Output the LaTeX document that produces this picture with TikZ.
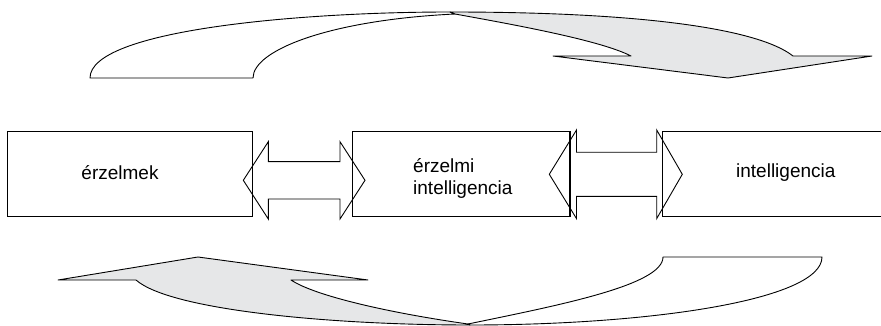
\documentclass[tikz,border=0pt]{standalone}
\usepackage{fontspec}
\setmainfont{Liberation Sans}
\definecolor{ribbongray}{HTML}{E6E7E8}
\begin{document}
\begin{tikzpicture}[x=1pt,y=-1pt,
    box/.style={draw,line width=1.2pt,minimum height=85pt,inner sep=0pt},
    label/.style={font=\fontsize{19}{21.5}\selectfont,inner sep=0pt},
    blockarrow/.style={draw,line width=0.9pt,line join=miter},
    ribbon/.style={draw,line width=0.9pt,line join=round}]
    \useasboundingbox (0,0) rectangle (881,326);
    % the three boxes
    \node[box,minimum width=245pt] (emo) at (129.8,174.2) {};
    \node[box,minimum width=217.3pt] (ei) at (461.35,174.2) {};
    \node[box,minimum width=240pt,anchor=west] (intel) at (661.7,174.2) {};
    \node[label] (emotext) at (120,173) {érzelmek};
    \node[label,align=left,anchor=base west] (eitext) at (413,194) {érzelmi\\intelligencia};
    \node[label] (inteltext) at (785.8,173) {intelligencia};
    % double arrows between the boxes
    \draw[blockarrow] (243.3,180.3) -- (268.3,141.7) -- (268.3,161.7) -- (340,161.7)
        -- (340,141.7) -- (365,180.3) -- (340,219) -- (340,199) -- (268.3,199)
        -- (268.3,219) -- cycle;
    \draw[blockarrow] (549.3,174.3) -- (576.5,130) -- (576.5,152.3) -- (656.7,152.3)
        -- (656.7,130) -- (682.3,174.3) -- (656.7,218.6) -- (656.7,196.3) -- (576.5,196.3)
        -- (576.5,218.6) -- cycle;
    % upper ribbon arrow
    \draw[ribbon,fill=white] (90,78) -- (253,78) .. controls (253,50) and (330,20) .. (455,14)
        -- (450,12) .. controls (300,12) and (90,30) .. (90,78) -- cycle;
    \draw[ribbon,fill=ribbongray] (450,12) .. controls (650,12) and (760,30) .. (793,56)
        -- (872,56) -- (728,78) -- (553,56) -- (631,56)
        .. controls (600,40) and (510,24) .. (455,14) -- cycle;
    % lower ribbon arrow
    \draw[ribbon,fill=ribbongray] (58,280) -- (198,257) -- (368,280) -- (291,280)
        .. controls (315,296) and (390,313) .. (468,324) -- (470,325)
        .. controls (330,325) and (170,310) .. (136,280) -- cycle;
    \draw[ribbon,fill=white] (663,257) -- (822,257) .. controls (822,300) and (650,325) .. (470,325)
        -- (468,324) .. controls (560,305) and (663,285) .. (663,257) -- cycle;
\end{tikzpicture}
\end{document}
